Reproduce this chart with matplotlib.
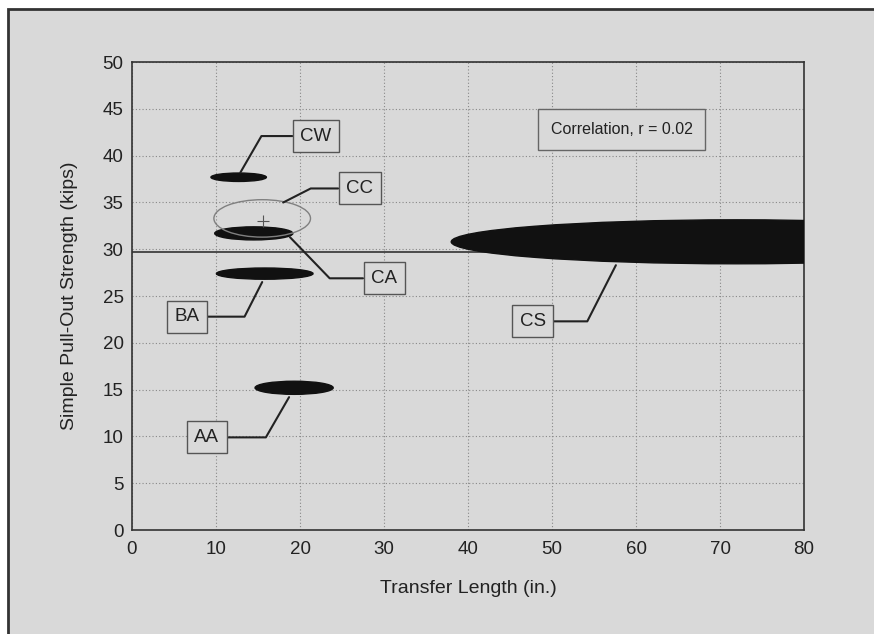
import matplotlib.pyplot as plt
from matplotlib.patches import Ellipse, Rectangle

plt.rcParams['font.family'] = ['Liberation Sans', 'DejaVu Sans']

# data ellipses: name, centre x, centre y, width (in.), height (kips), filled
names = ["CW", "CC", "CA", "BA", "AA", "CS"]
cx = [12.7, 15.5, 14.5, 15.8, 19.3, 72.0]
cy = [37.7, 33.3, 31.7, 27.4, 15.2, 30.8]
wx = [6.6, 11.5, 9.3, 11.5, 9.3, 68.0]
hy = [0.9, 4.0, 1.4, 1.2, 1.4, 4.7]
filled = [True, False, True, True, True, True]

# label boxes and leader targets
lab_x = [21.9, 27.1, 30.0, 6.5, 8.9, 47.7]
lab_y = [42.1, 36.5, 26.9, 22.8, 9.9, 22.3]
tgt_x = [12.9, 18.0, 18.8, 15.5, 18.7, 57.6]
tgt_y = [38.2, 35.0, 31.3, 26.5, 14.2, 28.3]
lead_ang = [60, 27, -46, 63, 60, 63]

mean_y = 29.7
cc_mean = (15.6, 33.0)
corr_text = "Correlation, r = 0.02"

bg = "#d9d9d9"
fig = plt.figure(figsize=(8.74, 6.34), dpi=100, facecolor="white")
# outer frame of the scanned figure
fig.patches.append(Rectangle((0.009, -0.01), 1.1, 0.996, transform=fig.transFigure,
                             facecolor=bg, edgecolor="#333333", linewidth=2, zorder=-10))
ax = fig.add_axes([0.151, 0.164, 0.769, 0.738])
ax.set_facecolor(bg)

ax.axhline(mean_y, color="#333333", lw=1.2, zorder=2)

for i in range(len(names)):
    if filled[i]:
        e = Ellipse((cx[i], cy[i]), wx[i], hy[i], facecolor="#111111", edgecolor="#111111", zorder=3)
    else:
        e = Ellipse((cx[i], cy[i]), wx[i], hy[i], facecolor="none", edgecolor="#808080", lw=1, zorder=4)
    ax.add_patch(e)
    ax.annotate(names[i], xy=(tgt_x[i], tgt_y[i]), xytext=(lab_x[i], lab_y[i]),
                ha="center", va="center", fontsize=13.5, color="#222222",
                bbox=dict(boxstyle="square,pad=0.4", facecolor=bg, edgecolor="#555555", lw=1),
                arrowprops=dict(arrowstyle="-", color="#222222", lw=1.5, shrinkA=0, shrinkB=0,
                                connectionstyle=f"angle,angleA=0,angleB={lead_ang[i]},rad=0"),
                zorder=5)

ax.plot(*cc_mean, marker="+", color="#555555", ms=8, mew=0.8, zorder=4)

ax.text(58.3, 42.8, corr_text, ha="center", va="center", fontsize=11.5, color="#222222",
        bbox=dict(boxstyle="square,pad=0.8", facecolor=bg, edgecolor="#666666", lw=1))

ax.set_xlim(0, 80)
ax.set_ylim(0, 50)
ax.set_xticks(range(0, 81, 10))
ax.set_yticks(range(0, 51, 5))
ax.grid(True, color="#888888", linestyle=(0, (1, 2)), lw=0.8)
ax.set_axisbelow(True)
for s in ax.spines.values():
    s.set_color("#333333")
    s.set_linewidth(1.2)
ax.tick_params(length=0, labelsize=13.5, colors="#222222")
ax.tick_params(axis="x", pad=8)
ax.tick_params(axis="y", pad=6)
ax.set_xlabel("Transfer Length (in.)", fontsize=14, color="#222222", labelpad=16)
ax.set_ylabel("Simple Pull-Out Strength (kips)", fontsize=14, color="#222222", labelpad=18)

fig.savefig("out.png", dpi=100, facecolor="white")
